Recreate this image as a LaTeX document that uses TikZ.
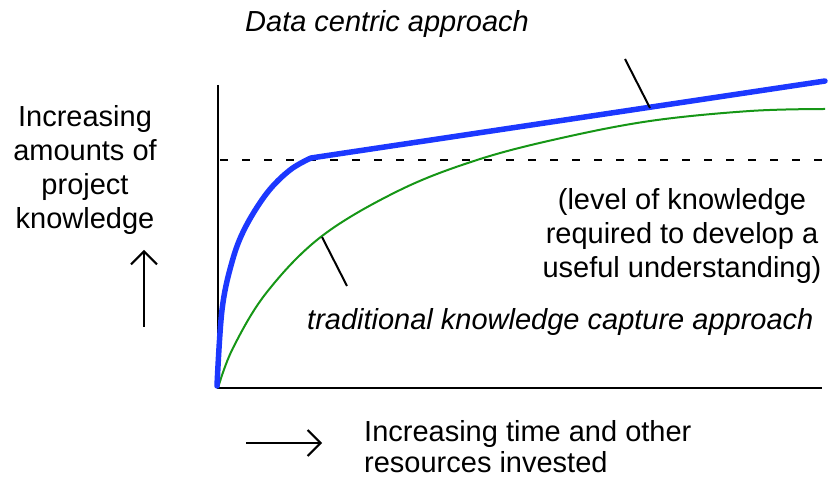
\documentclass[tikz,border=0pt]{standalone}
\usepackage{fontspec}
\setmainfont{Liberation Sans}
\usetikzlibrary{arrows.meta}
\definecolor{curveblue}{RGB}{28,56,255}
\definecolor{curvegreen}{RGB}{22,150,22}
\tikzset{
  lbl/.style={inner sep=0pt, font=\fontsize{29}{34}\selectfont},
  ilbl/.style={inner sep=0pt, font=\fontsize{29}{34}\selectfont\itshape},
  axisline/.style={line width=2.4pt, black},
  pointer/.style={line width=2pt, black},
  dataline/.style={line width=5.5pt, curveblue, line join=round, line cap=round},
  tradline/.style={line width=2pt, curvegreen},
  levelline/.style={line width=2.6pt, dash pattern=on 8pt off 14pt},
  dirarrow/.style={line width=2pt, -{Straight Barb[length=13pt,width=26pt,line width=2pt]}},
}
\begin{document}
\begin{tikzpicture}[x=1pt,y=-1pt]
\useasboundingbox (0,0) rectangle (831,478);
% axes
\coordinate (origin) at (218,388);
\coordinate (ytop) at (218,85);
\coordinate (xend) at (822,388);
\draw[axisline] (ytop) -- (origin) -- (xend);
% required level
\coordinate (lvlL) at (220,160);
\coordinate (lvlR) at (822,160);
\draw[levelline] (lvlL) -- (lvlR);
% traditional curve
\draw[tradline] plot[smooth, tension=0.6] coordinates {(218,388) (233,348) (267,292) (322,236) (400,190) (477,160) (557,139) (650,121) (750,111) (825,109)};
% data centric curve
\coordinate (knee) at (311,158);
\coordinate (dend) at (825,81);
\draw[dataline] plot[smooth, tension=0.6] coordinates {(217,386) (222,310) (232,262) (245,228) (267,193) (290,170) (311,158)} -- (dend);
% pointers
\coordinate (p1a) at (625,59);
\coordinate (p1b) at (650,108);
\draw[pointer] (p1a) -- (p1b);
\coordinate (p2a) at (322,237);
\coordinate (p2b) at (347,286);
\draw[pointer] (p2a) -- (p2b);
% labels
\node[ilbl, anchor=base west] (datalbl) at (245,32) {Data centric approach};
\node[ilbl, anchor=base west] (tradlbl) at (307,330) {traditional knowledge capture approach};
\node[lbl, anchor=base, align=center] (ylbl) at (85,229) {Increasing\\amounts of\\project\\knowledge};
\node[lbl, anchor=base, align=center] (levellbl) at (682,278) {(level of knowledge\\required to develop a\\useful understanding)};
\node[lbl, anchor=base west, align=left] (xlbl) at (364,473) {Increasing time and other\\[-3pt]resources invested};
% direction arrows
\coordinate (upA) at (144,327);
\coordinate (upB) at (144,250);
\draw[dirarrow] (upA) -- (upB);
\coordinate (rtA) at (246,443);
\coordinate (rtB) at (322,443);
\draw[dirarrow] (rtA) -- (rtB);
\end{tikzpicture}
\end{document}
